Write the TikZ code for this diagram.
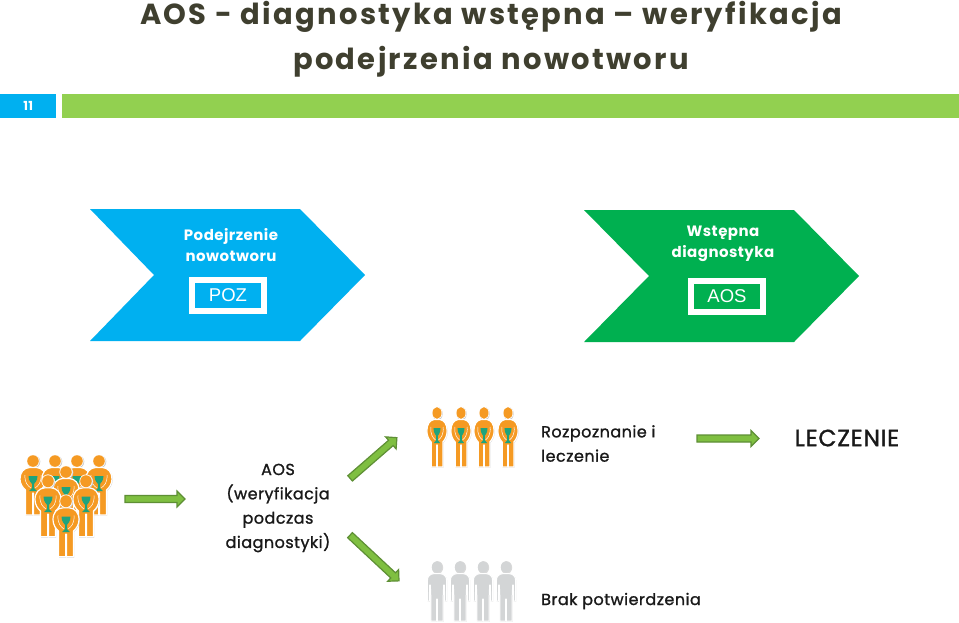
\documentclass[tikz,border=0pt]{standalone}
\usepackage{fontspec}
\setmainfont{Poppins}
\newfontfamily\titlefont[LetterSpace=8]{Poppins}
\newfontfamily\labelfont[LetterSpace=3]{Poppins}
\newfontfamily\medfont[LetterSpace=3,FakeBold=1.2]{Poppins}
\newfontfamily\plainfont{Liberation Sans}
\definecolor{skyb}{HTML}{00B0F0}
\definecolor{leaf}{HTML}{00B050}
\definecolor{bar}{HTML}{92D050}
\definecolor{ink}{HTML}{3F3F2F}
\definecolor{org}{HTML}{F59A23}
\definecolor{cupc}{HTML}{1FA37C}
\definecolor{greyp}{HTML}{D3D5D6}
\definecolor{arrfill}{HTML}{7FBF41}
\definecolor{arrline}{HTML}{5E8F35}
\tikzset{
  blockarrow/.style={draw=arrline,fill=arrfill,line width=1.2pt,line join=miter},
  titletext/.style={text=ink,font=\titlefont\bfseries\fontsize{29}{29}\selectfont,inner sep=0pt},
  headtext/.style={text=white,font=\labelfont\bfseries\fontsize{15}{21.5}\selectfont,align=center,inner sep=0pt},
  darktext/.style={text=black!90,font=\medfont\fontsize{16}{24.3}\selectfont,align=center,inner sep=0pt},
  plainbox/.style={draw=white,line width=6pt,text=white,minimum width=72pt,minimum height=31pt,
    font=\plainfont\fontsize{18.5}{18.5}\selectfont,inner sep=0pt},
}
% \blockarrow{cx}{cy}{angle}{length}
\newcommand{\blockarrow}[4]{%
  \begin{scope}[shift={(#1,#2)},rotate=#3]
    \draw[blockarrow] (-#4/2,-3.5) -- (#4/2-8,-3.5) -- (#4/2-8,-8) -- (#4/2,0) -- (#4/2-8,8) -- (#4/2-8,3.5) -- (-#4/2,3.5) -- cycle;
  \end{scope}}
% \persona{x}{y of head top}{x scale}{y scale}{colour}
\newcommand{\bodypath}{(-3.5,12.5) .. controls (-9,13) and (-13,17) .. (-13,24) .. controls (-13,29) and (-10,33) .. (-7.5,35) -- (-7.5,60) -- (-0.4,60) -- (-0.4,38) -- (0.4,38) -- (0.4,60) -- (7.5,60) -- (7.5,35) .. controls (10,33) and (13,29) .. (13,24) .. controls (13,17) and (9,13) .. (3.5,12.5) -- cycle}
\newcommand{\persona}[5]{%
  \begin{scope}[shift={(#1,#2)},xscale=#3,yscale=#4]
    \fill[gray!40,shift={(0.7,0.7)}] (0,6) circle (6.6);
    \fill[gray!40,shift={(0.7,0.7)}] \bodypath;
    \draw[white,line width=1.2pt,fill=white] (0,6) circle (6);
    \draw[white,line width=1.2pt,fill=#5,line join=round] \bodypath;
    \fill[#5] (0,6) circle (5.8);
    \draw[white,line width=.5pt,line cap=round] (-8,20) .. controls (-8.5,28) and (-5,31) .. (-2,33);
    \draw[white,line width=.5pt,line cap=round] (8,20) .. controls (8.5,28) and (5,31) .. (2,33);
    \fill[cupc] (-4.5,21) -- (4.5,21) .. controls (4.5,26) and (1.5,28) .. (1,29) -- (1,33) -- (4,36) -- (-4,36) -- (-1,33) -- (-1,29) .. controls (-1.5,28) and (-4.5,26) .. (-4.5,21) -- cycle;
  \end{scope}}
\newcommand{\greypath}{(-3,12.5) .. controls (-8,13) and (-11,15) .. (-11,20) -- (-11,40) -- (-8.7,40) -- (-8.4,24) -- (-7.6,24) -- (-7,36) -- (-7,60) -- (-0.4,60) -- (-0.4,38) -- (0.4,38) -- (0.4,60) -- (7,60) -- (7,36) -- (7.6,24) -- (8.4,24) -- (8.7,40) -- (11,40) -- (11,20) .. controls (11,15) and (8,13) .. (3,12.5) -- cycle}
\newcommand{\grisa}[2]{%
  \begin{scope}[shift={(#1,#2)},xscale=.88]
    \fill[gray!30,shift={(0.6,0.6)}] (0,6) circle (6.4);
    \fill[gray!30,shift={(0.6,0.6)}] \greypath;
    \draw[white,line width=1pt,fill=greyp,line join=round] \greypath;
    \fill[greyp] (0,6) circle (5.8);
  \end{scope}}
\begin{document}
\begin{tikzpicture}[x=1pt,y=-1pt]
\useasboundingbox (0,0) rectangle (959,622);
\fill[white] (0,0) rectangle (959,622);
% title
\node[titletext] (t1) at (491,17) {AOS - diagnostyka wstępna – weryfikacja};
\node[titletext] (t2) at (491,62) {podejrzenia nowotworu};
% header bar
\node[fill=skyb,minimum width=56pt,minimum height=24pt,inner sep=0pt,anchor=north west,text=white,
  font=\labelfont\bfseries\fontsize{12.5}{12.5}\selectfont] (num) at (0,94) {11};
\node[fill=bar,minimum width=897pt,minimum height=24pt,inner sep=0pt,anchor=north west] (barb) at (62,94) {};
% chevrons
\fill[skyb] (90,209) -- (300,209) -- (365,275) -- (300,341) -- (90,341) -- (154,275) -- cycle;
\fill[leaf] (584,210) -- (794,210) -- (859,276) -- (794,342) -- (584,342) -- (649,276) -- cycle;
\node[headtext] (h1) at (231,245) {Podejrzenie\\nowotworu};
\node[headtext] (h2) at (723,244) {Wstępna\\diagnostyka};
\node[plainbox] (poz) at (228,295.5) {POZ};
\node[plainbox] (aos) at (727,296.5) {AOS};
% group
\persona{33}{455}{1}{1}{org}
\persona{55}{455}{1}{1}{org}
\persona{77}{455}{1}{1}{org}
\persona{99}{455}{1}{1}{org}
\persona{66}{466}{1}{1}{org}
\persona{48}{475}{1}{1.03}{org}
\persona{86}{475}{1}{1.03}{org}
\persona{66}{495}{1}{1.03}{org}
% top row
\persona{437}{407}{0.78}{1}{org}
\persona{461}{407}{0.78}{1}{org}
\persona{484}{407}{0.78}{1}{org}
\persona{508}{407}{0.78}{1}{org}
% grey row
\grisa{437}{561}
\grisa{460}{561}
\grisa{483}{561}
\grisa{506}{561}
% arrows
\blockarrow{155}{499}{0}{60}
\blockarrow{373.5}{458}{41}{62}
\blockarrow{374.5}{558}{-43}{67}
\blockarrow{728}{438.5}{0}{62}
% texts
\node[darktext] (d1) at (278,508) {AOS\\(weryfikacja\\podczas\\diagnostyki)};
\node[darktext,align=left,anchor=north west] (d2) at (541,425) {Rozpoznanie i\\leczenie};
\node[darktext,anchor=west] (d3) at (541,601) {Brak potwierdzenia};
\node[text=black!90,font=\medfont\fontsize{23.5}{23.5}\selectfont,inner sep=0pt] (d4) at (847,438) {LECZENIE};
\end{tikzpicture}
\end{document}
